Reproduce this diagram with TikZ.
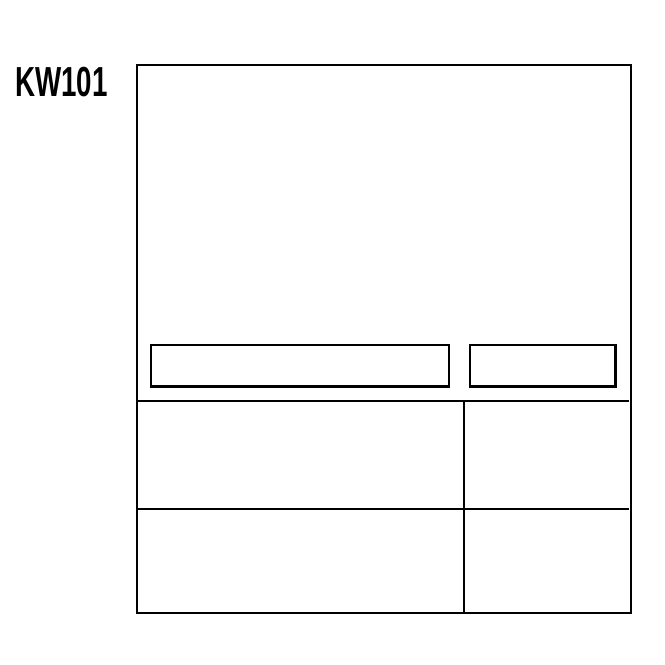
\documentclass[tikz,border=0pt]{standalone}
\usepackage{fontspec}
\setmainfont{Liberation Sans}
\begin{document}
\begin{tikzpicture}[x=1pt,y=-1pt,
  frame/.style={draw=black,line width=2pt},
  slot/.style={draw=black,line width=2.3pt},
  divider/.style={draw=black,line width=2pt}]
\useasboundingbox (0,0) rectangle (665,665);
\node[inner sep=0pt,xscale=0.66,font=\fontsize{42}{42}\selectfont\bfseries] (label) at (61.5,82) {KW101};
\draw[frame] (136.5,65) rectangle (630.5,612.5);
\draw[slot] (151,345) rectangle (449,386.5);
\draw[slot] (470,345) rectangle (615.5,386.5);
\draw[divider] (138,401) -- (629,401);
\draw[divider] (138,508.5) -- (629,508.5);
\draw[divider] (464.3,401) -- (464.3,612.5);
\end{tikzpicture}
\end{document}
